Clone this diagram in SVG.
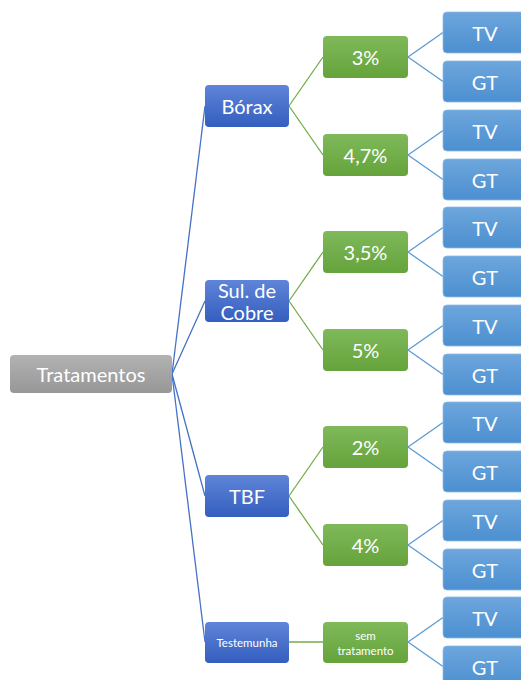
<svg xmlns="http://www.w3.org/2000/svg" width="521" height="680" viewBox="0 0 521 680">
  <defs>
    <linearGradient id="gGrey" x1="0" y1="0" x2="0" y2="1">
      <stop offset="0" stop-color="#b2b2b2"/>
      <stop offset="1" stop-color="#979797"/>
    </linearGradient>
    <linearGradient id="gBlue" x1="0" y1="0" x2="0" y2="1">
      <stop offset="0" stop-color="#5f85d8"/>
      <stop offset="1" stop-color="#345ebf"/>
    </linearGradient>
    <linearGradient id="gGreen" x1="0" y1="0" x2="0" y2="1">
      <stop offset="0" stop-color="#7fb95a"/>
      <stop offset="1" stop-color="#65a33b"/>
    </linearGradient>
    <linearGradient id="gLeaf" x1="0" y1="0" x2="0" y2="1">
      <stop offset="0" stop-color="#6da6dc"/>
      <stop offset="1" stop-color="#4c8fd0"/>
    </linearGradient>
  </defs>
  <style>
    text { font-family: Lato, "Open Sans", "Liberation Sans", sans-serif; fill: #ffffff; text-anchor: middle; dominant-baseline: central; }
    .big { font-size: 20px; }
    .small { font-size: 11.5px; }
    .root { fill: url(#gGrey); }
    .l1 { fill: url(#gBlue); }
    .l2 { fill: url(#gGreen); }
    .leaf { fill: url(#gLeaf); stroke: #8dbbe6; stroke-width: 0.8; }
    .c1 { stroke: #4472c4; stroke-width: 1.3; fill: none; }
    .c2 { stroke: #70ad47; stroke-width: 1.3; fill: none; }
    .c3 { stroke: #5b9bd5; stroke-width: 1.3; fill: none; }
  </style>
  <rect width="521" height="680" fill="#ffffff"/>

  <!-- connectors -->
  <g id="connectors">
    <line class="c1" x1="172" y1="374" x2="205" y2="106"/>
    <line class="c1" x1="172" y1="374" x2="205" y2="301"/>
    <line class="c1" x1="172" y1="374" x2="205" y2="496"/>
    <line class="c1" x1="172" y1="374" x2="205" y2="642"/>

    <line class="c2" x1="289" y1="106" x2="323" y2="57"/>
    <line class="c2" x1="289" y1="106" x2="323" y2="155"/>
    <line class="c2" x1="289" y1="301" x2="323" y2="252"/>
    <line class="c2" x1="289" y1="301" x2="323" y2="350"/>
    <line class="c2" x1="289" y1="496" x2="323" y2="447"/>
    <line class="c2" x1="289" y1="496" x2="323" y2="545"/>
    <line class="c2" x1="289" y1="642" x2="323" y2="642"/>

    <line class="c3" x1="408" y1="57" x2="443" y2="32.5"/>
    <line class="c3" x1="408" y1="57" x2="443" y2="81.5"/>
    <line class="c3" x1="408" y1="155" x2="443" y2="130.5"/>
    <line class="c3" x1="408" y1="155" x2="443" y2="179.5"/>
    <line class="c3" x1="408" y1="252" x2="443" y2="227.5"/>
    <line class="c3" x1="408" y1="252" x2="443" y2="276.5"/>
    <line class="c3" x1="408" y1="350" x2="443" y2="325.5"/>
    <line class="c3" x1="408" y1="350" x2="443" y2="374.5"/>
    <line class="c3" x1="408" y1="447" x2="443" y2="422.5"/>
    <line class="c3" x1="408" y1="447" x2="443" y2="471.5"/>
    <line class="c3" x1="408" y1="545" x2="443" y2="520.5"/>
    <line class="c3" x1="408" y1="545" x2="443" y2="569.5"/>
    <line class="c3" x1="408" y1="642" x2="443" y2="617.5"/>
    <line class="c3" x1="408" y1="642" x2="443" y2="666.5"/>
  </g>

  <!-- root -->
  <g id="tratamentos">
    <rect class="root" x="10" y="355" width="162" height="38" rx="4"/>
    <text class="big" x="91" y="374">Tratamentos</text>
  </g>

  <!-- first level -->
  <g id="borax">
    <rect class="l1" x="205" y="85" width="84" height="42" rx="4"/>
    <text class="big" x="247" y="106">Bórax</text>
  </g>
  <g id="sulfato">
    <rect class="l1" x="205" y="280" width="84" height="42" rx="4"/>
    <text class="big" x="247" y="290">Sul. de</text>
    <text class="big" x="247" y="312">Cobre</text>
  </g>
  <g id="tbf">
    <rect class="l1" x="205" y="475" width="84" height="42" rx="4"/>
    <text class="big" x="247" y="496">TBF</text>
  </g>
  <g id="testemunha">
    <rect class="l1" x="205" y="622" width="84" height="41" rx="4"/>
    <text class="small" x="247" y="642">Testemunha</text>
  </g>

  <!-- second level -->
  <g id="borax-3">
    <rect class="l2" x="323" y="36" width="85" height="42" rx="4"/>
    <text class="big" x="365.5" y="57">3%</text>
  </g>
  <g id="borax-4-7">
    <rect class="l2" x="323" y="134" width="85" height="42" rx="4"/>
    <text class="big" x="365.5" y="155">4,7%</text>
  </g>
  <g id="sulfato-3-5">
    <rect class="l2" x="323" y="231" width="85" height="42" rx="4"/>
    <text class="big" x="365.5" y="252">3,5%</text>
  </g>
  <g id="sulfato-5">
    <rect class="l2" x="323" y="329" width="85" height="42" rx="4"/>
    <text class="big" x="365.5" y="350">5%</text>
  </g>
  <g id="tbf-2">
    <rect class="l2" x="323" y="426" width="85" height="42" rx="4"/>
    <text class="big" x="365.5" y="447">2%</text>
  </g>
  <g id="tbf-4">
    <rect class="l2" x="323" y="524" width="85" height="42" rx="4"/>
    <text class="big" x="365.5" y="545">4%</text>
  </g>
  <g id="sem-tratamento">
    <rect class="l2" x="323" y="622" width="85" height="41" rx="4"/>
    <text class="small" x="365.5" y="635">sem</text>
    <text class="small" x="365.5" y="650">tratamento</text>
  </g>

  <!-- leaves -->
  <g id="leaf-1"><rect class="leaf" x="443" y="12" width="85" height="41" rx="4"/><text class="big" x="485" y="32.5">TV</text></g>
  <g id="leaf-2"><rect class="leaf" x="443" y="61" width="85" height="41" rx="4"/><text class="big" x="485" y="81.5">GT</text></g>
  <g id="leaf-3"><rect class="leaf" x="443" y="110" width="85" height="41" rx="4"/><text class="big" x="485" y="130.5">TV</text></g>
  <g id="leaf-4"><rect class="leaf" x="443" y="159" width="85" height="41" rx="4"/><text class="big" x="485" y="179.5">GT</text></g>
  <g id="leaf-5"><rect class="leaf" x="443" y="207" width="85" height="41" rx="4"/><text class="big" x="485" y="227.5">TV</text></g>
  <g id="leaf-6"><rect class="leaf" x="443" y="256" width="85" height="41" rx="4"/><text class="big" x="485" y="276.5">GT</text></g>
  <g id="leaf-7"><rect class="leaf" x="443" y="305" width="85" height="41" rx="4"/><text class="big" x="485" y="325.5">TV</text></g>
  <g id="leaf-8"><rect class="leaf" x="443" y="354" width="85" height="41" rx="4"/><text class="big" x="485" y="374.5">GT</text></g>
  <g id="leaf-9"><rect class="leaf" x="443" y="402" width="85" height="41" rx="4"/><text class="big" x="485" y="422.5">TV</text></g>
  <g id="leaf-10"><rect class="leaf" x="443" y="451" width="85" height="41" rx="4"/><text class="big" x="485" y="471.5">GT</text></g>
  <g id="leaf-11"><rect class="leaf" x="443" y="500" width="85" height="41" rx="4"/><text class="big" x="485" y="520.5">TV</text></g>
  <g id="leaf-12"><rect class="leaf" x="443" y="549" width="85" height="41" rx="4"/><text class="big" x="485" y="569.5">GT</text></g>
  <g id="leaf-13"><rect class="leaf" x="443" y="597" width="85" height="41" rx="4"/><text class="big" x="485" y="617.5">TV</text></g>
  <g id="leaf-14"><rect class="leaf" x="443" y="646" width="85" height="41" rx="4"/><text class="big" x="485" y="666.5">GT</text></g>
</svg>
